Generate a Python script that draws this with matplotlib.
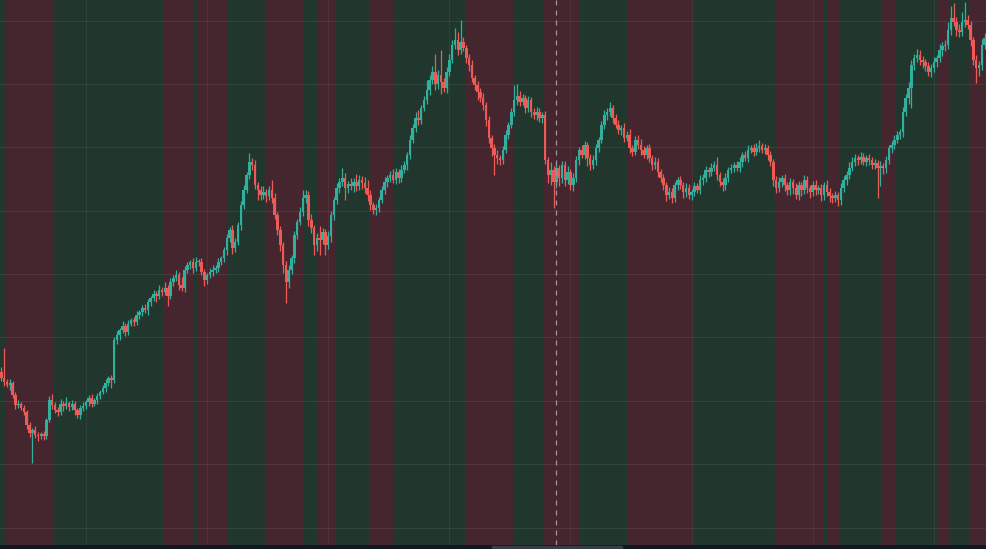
import numpy as np
import matplotlib.pyplot as plt
from matplotlib.patches import Rectangle

# closes, one block of ten bars per line
CLOSE = [
    172, 168, 165, 167, 155, 145, 146, 142, 138, 125,
    117, 120, 115, 114, 116, 114, 130, 150, 145, 140,
    138, 146, 144, 147, 143, 146, 140, 135, 142, 144,
    148, 152, 146, 150, 154, 158, 162, 167, 172, 170,
    210, 215, 220, 224, 218, 226, 230, 228, 235, 238,
    242, 240, 248, 252, 256, 254, 260, 258, 262, 254,
    268, 272, 275, 265, 262, 280, 285, 288, 282, 288,
    288, 278, 270, 275, 278, 280, 282, 288, 292, 300,
    312, 320, 302, 308, 325, 345, 360, 375, 388, 385,
    365, 360, 355, 358, 354, 360, 352, 335, 320, 305,
    285, 268, 280, 292, 315, 328, 338, 352, 355, 330,
    322, 305, 312, 310, 318, 305, 314, 335, 350, 362,
    368, 372, 362, 366, 364, 368, 364, 370, 367, 362,
    355, 345, 340, 342, 350, 360, 368, 372, 375, 370,
    378, 372, 380, 385, 395, 410, 422, 432, 430, 442,
    450, 460, 470, 478, 466, 475, 468, 462, 478, 490,
    505, 510, 500, 508, 502, 492, 485, 472, 465, 458,
    452, 445, 430, 412, 402, 395, 392, 390, 400, 415,
    425, 438, 450, 454, 448, 452, 442, 450, 438, 435,
    438, 432, 435, 390, 375, 380, 368, 382, 372, 385,
    370, 378, 365, 372, 390, 400, 395, 405, 392, 385,
    390, 402, 410, 425, 435, 438, 442, 432, 425, 420,
    422, 412, 415, 402, 398, 410, 405, 400, 395, 402,
    392, 385, 388, 378, 372, 365, 355, 358, 352, 365,
    370, 365, 358, 362, 355, 358, 364, 360, 370, 372,
    380, 378, 382, 385, 375, 368, 365, 372, 380, 382,
    385, 382, 388, 395, 392, 400, 402, 398, 402, 404,
    400, 402, 395, 388, 370, 362, 368, 372, 365, 360,
    368, 362, 355, 365, 360, 370, 362, 358, 365, 360,
    362, 355, 365, 358, 354, 352, 355, 350, 362, 370,
    375, 382, 388, 392, 390, 393, 388, 392, 390, 385,
    387, 382, 384, 382, 390, 402, 405, 410, 415, 418,
    438, 452, 462, 485, 492, 495, 490, 488, 484, 478,
    482, 488, 492, 500, 504, 505, 520, 532, 528, 520,
    518, 528, 530, 525, 510, 490, 482, 485, 505, 512,
]
FIRST_OPEN = 178

UPPER_WICK = [
    5, 30, 3, 4, 2, 3, 4, 2, 3, 2,
    3, 2, 4, 3, 2, 3, 2, 4, 6, 3,
    3, 5, 3, 6, 2, 4, 3, 2, 3, 4,
    2, 3, 4, 2, 3, 2, 3, 4, 2, 3,
    3, 4, 2, 5, 3, 4, 2, 3, 4, 2,
    3, 4, 3, 2, 4, 3, 5, 3, 6, 3,
    4, 3, 5, 3, 8, 4, 3, 2, 4, 5,
    3, 4, 3, 2, 4, 5, 3, 4, 2, 3,
    4, 3, 5, 4, 3, 4, 5, 3, 9, 4,
    5, 3, 4, 6, 3, 4, 10, 5, 3, 4,
    3, 4, 5, 3, 4, 3, 5, 8, 5, 4,
    6, 3, 5, 12, 4, 3, 5, 4, 3, 5,
    4, 10, 5, 3, 6, 4, 8, 5, 4, 6,
    8, 5, 3, 4, 3, 4, 5, 3, 4, 6,
    4, 3, 5, 4, 3, 5, 4, 6, 8, 3,
    4, 10, 5, 6, 18, 5, 25, 4, 5, 6,
    5, 12, 8, 22, 5, 3, 4, 5, 3, 4,
    4, 5, 3, 4, 3, 4, 5, 3, 4, 5,
    3, 4, 15, 12, 5, 4, 3, 4, 3, 4,
    5, 4, 3, 4, 3, 8, 4, 5, 3, 4,
    4, 6, 3, 5, 4, 3, 5, 4, 3, 4,
    5, 4, 3, 4, 5, 4, 6, 3, 4, 5,
    3, 5, 4, 6, 3, 4, 5, 6, 4, 3,
    4, 3, 5, 4, 3, 4, 3, 5, 4, 3,
    3, 4, 3, 5, 4, 3, 4, 3, 5, 4,
    4, 3, 5, 4, 8, 3, 4, 5, 3, 4,
    3, 4, 5, 3, 4, 5, 3, 4, 5, 6,
    3, 4, 3, 4, 3, 4, 5, 3, 4, 3,
    4, 3, 5, 4, 3, 5, 4, 3, 4, 5,
    3, 4, 3, 5, 4, 3, 4, 3, 5, 4,
    4, 6, 5, 4, 3, 5, 4, 3, 4, 3,
    4, 3, 5, 3, 4, 3, 4, 5, 4, 3,
    5, 4, 6, 5, 4, 6, 5, 4, 3, 4,
    4, 5, 3, 6, 4, 5, 8, 12, 15, 5,
    6, 10, 18, 5, 4, 3, 5, 4, 6, 5,
]

LOWER_WICK = [
    3, 4, 2, 5, 3, 4, 3, 2, 3, 4,
    4, 30, 3, 5, 3, 4, 3, 2, 4, 3,
    4, 3, 5, 3, 4, 3, 5, 3, 4, 3,
    3, 4, 3, 2, 4, 3, 2, 4, 3, 8,
    3, 4, 5, 3, 4, 3, 2, 4, 3, 4,
    4, 3, 5, 4, 3, 6, 3, 4, 3, 10,
    3, 4, 3, 5, 3, 4, 3, 4, 5, 3,
    4, 3, 6, 4, 3, 4, 3, 4, 3, 4,
    5, 4, 6, 4, 3, 5, 4, 3, 4, 5,
    4, 10, 5, 4, 6, 4, 5, 4, 5, 6,
    8, 21, 6, 4, 5, 4, 3, 4, 5, 6,
    5, 10, 6, 15, 4, 10, 4, 6, 5, 4,
    5, 4, 12, 5, 4, 6, 5, 4, 6, 5,
    6, 5, 4, 5, 4, 3, 4, 5, 4, 3,
    4, 5, 4, 3, 5, 4, 3, 4, 5, 4,
    3, 4, 5, 4, 6, 5, 12, 4, 5, 4,
    3, 4, 5, 4, 3, 5, 6, 4, 5, 8,
    4, 5, 6, 5, 8, 20, 6, 5, 4, 3,
    4, 3, 4, 5, 4, 3, 5, 4, 5, 4,
    5, 4, 5, 4, 8, 10, 26, 6, 8, 5,
    6, 4, 5, 6, 4, 5, 3, 4, 8, 5,
    4, 5, 4, 3, 4, 5, 4, 5, 3, 4,
    5, 4, 3, 5, 4, 3, 4, 5, 3, 4,
    4, 5, 4, 5, 4, 5, 6, 4, 5, 4,
    5, 4, 6, 5, 4, 5, 4, 3, 4, 5,
    4, 5, 4, 3, 5, 4, 6, 5, 4, 3,
    4, 3, 4, 5, 3, 4, 3, 4, 3, 4,
    3, 4, 5, 4, 6, 5, 4, 5, 6, 5,
    5, 6, 4, 5, 6, 4, 5, 6, 4, 5,
    4, 6, 5, 4, 6, 5, 4, 6, 5, 4,
    5, 4, 3, 4, 5, 4, 3, 4, 5, 4,
    4, 30, 18, 6, 5, 4, 5, 4, 3, 4,
    5, 4, 6, 20, 5, 4, 5, 6, 5, 4,
    5, 4, 5, 4, 6, 5, 4, 5, 4, 6,
    5, 4, 5, 4, 6, 5, 15, 8, 5, 4,
]

# bar indices where the background regime flips (starts with bull)
REGIME_EDGES = [0, 2, 19, 58, 69, 70, 81, 94, 108, 113, 119, 131, 140, 165,
                182, 193, 206, 223, 246, 275, 292, 294, 298, 313, 318, 333,
                337, 344, 350]
CURSOR_BAR = 197
TIME_GRID = [30, 73, 116, 159, 202, 245, 288, 331]
PRICE_GRID = [22, 86, 149, 213, 276, 339, 403, 466, 529]

UP = "#31b19d"
DOWN = "#ee5b56"
BULL_BG = "#21372d"
BEAR_BG = "#45262f"

close = np.array(CLOSE, dtype=float)
open_ = np.concatenate([[FIRST_OPEN], close[:-1]])
high = np.maximum(open_, close) + np.array(UPPER_WICK)
low = np.minimum(open_, close) - np.array(LOWER_WICK)
x = np.arange(len(close))
colors = np.where(close >= open_, UP, DOWN)

fig = plt.figure(figsize=(9.86, 5.49), dpi=100, facecolor="#131722")
ax = fig.add_axes([0, 4 / 549, 1, 545 / 549])
ax.set_xlim(-0.5, len(close) - 0.5)
ax.set_ylim(5, 550)
ax.axis("off")

for i in range(len(REGIME_EDGES) - 1):
    bg = BULL_BG if i % 2 == 0 else BEAR_BG
    ax.axvspan(REGIME_EDGES[i] - 0.5, REGIME_EDGES[i + 1] - 0.5,
               color=bg, lw=0, zorder=0)

for p in PRICE_GRID:
    ax.axhline(p, color="white", alpha=0.07, lw=0.8, zorder=1)
for t in TIME_GRID:
    ax.axvline(t, color="white", alpha=0.05, lw=0.8, zorder=1)

ax.vlines(x, low, high, colors=colors, lw=0.9, zorder=3)
ax.bar(x, np.maximum(np.abs(close - open_), 1.2), bottom=np.minimum(open_, close),
       width=0.9, color=colors, linewidth=0, zorder=4)

ax.axvline(CURSOR_BAR, color="#a3959c", lw=0.9, ls=(0, (4, 4)), zorder=5)

fig.patches.append(Rectangle((492 / 986, 0), 130 / 986, 3 / 549,
                             transform=fig.transFigure, color="#3a3e4a"))

fig.savefig("out.png", dpi=100, facecolor=fig.get_facecolor())
